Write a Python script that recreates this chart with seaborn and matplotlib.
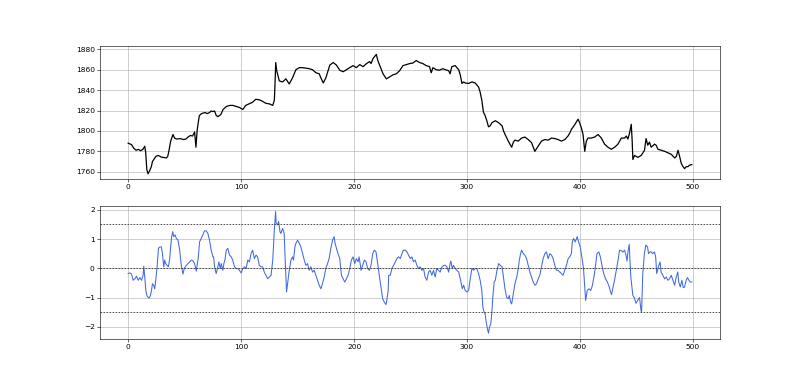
import matplotlib
matplotlib.use("Agg")
import matplotlib.pyplot as plt
import seaborn as sns
import pandas as pd

# price series
price_x = [0, 3, 5, 7, 9, 11, 13, 14.7, 15.5, 16.5, 17.6, 19, 20.5, 21.5, 24.5, 26.5, 29, 31, 33.8, 35,
           36, 37.6, 39.7, 41, 43, 46, 49, 51, 53, 55, 57, 58.8, 60, 61, 62, 63, 65, 68, 70, 72,
           73.5, 75, 76.5, 78, 79.5, 82, 84, 87, 90, 92.6, 95.5, 98.5, 101.5, 104, 107, 110, 113, 116, 119, 122,
           125, 128, 129.4, 130.2, 130.6, 131.5, 133.8, 136.7, 139.6, 142.6, 145.5, 148.5, 151.5, 154.4, 157.3, 160.3, 163.2, 166.2, 169.1, 170.6,
           172.7, 175, 178.5, 181.5, 184.4, 187.3, 190.3, 193.2, 196.2, 199.1, 202, 205, 208, 211, 213.8, 215, 216.8, 219.7, 221, 225.6,
           228.6, 231.5, 234.5, 237.4, 240.3, 243.3, 246.3, 249.2, 252, 255, 258, 260.9, 263.8, 266.8, 268.3, 269.8, 272.7, 275.6, 278.6, 280.8,
           283.7, 285, 286.5, 289.6, 291, 292.6, 294, 295.5, 297, 298.4, 301.4, 304.3, 307.2, 310.2, 311.6, 313.1, 314.5, 316, 317.5, 319,
           320.5, 322, 325, 328, 331, 332.3, 333.6, 336.5, 338, 339.5, 341, 342.4, 345.3, 348.3, 351.2, 354.2, 357.1, 360, 363, 365.9,
           368.9, 371.8, 374.8, 377.7, 380.6, 383.6, 386.5, 389.4, 391, 392.4, 395.3, 398.3, 399.7, 401.2, 402.7, 404.2, 405.6, 407.1, 410, 413,
           416, 418.9, 421.8, 424.8, 427.7, 430.7, 433.6, 436.6, 439.5, 441, 442.4, 443.9, 445.4, 446.2, 446.8, 448.3, 451.2, 454.2, 457.1, 458.5,
           460, 461.5, 463, 466, 467.4, 469, 472, 475, 478, 480.9, 483.8, 485.3, 486.8, 488.2, 489.7, 491.2, 492.6, 494.1, 495.6, 497, 499]
price = [1788, 1786.5, 1783, 1781, 1782, 1780.5, 1782, 1785, 1779, 1762, 1758, 1761, 1765, 1770, 1775, 1776, 1774.5, 1774, 1773.5, 1775,
         1780, 1790, 1796.5, 1793, 1792, 1792.5, 1791.5, 1792, 1794, 1795.5, 1795, 1799, 1784, 1800, 1808, 1815, 1817, 1818, 1817, 1818,
         1819.5, 1819, 1819.5, 1815, 1814, 1816, 1821, 1824, 1825, 1825, 1824, 1823, 1821, 1825, 1826.5, 1828, 1831, 1830.5, 1829, 1827,
         1826.5, 1825, 1830, 1852, 1867, 1859, 1849, 1848, 1851, 1846, 1852, 1860, 1862, 1862, 1861.5, 1861, 1860, 1857, 1856, 1852,
         1847, 1852, 1864.5, 1867, 1864.5, 1859.5, 1858, 1860, 1862, 1864, 1862, 1865, 1863, 1866, 1868, 1866, 1871, 1875, 1869, 1856,
         1851, 1853, 1855, 1856, 1859, 1864, 1865, 1866, 1866.5, 1869, 1867, 1866, 1864, 1863, 1857, 1862, 1860, 1859.5, 1861, 1860,
         1859, 1856, 1863, 1864, 1862, 1860, 1855, 1846.5, 1848, 1847, 1846.5, 1848, 1847, 1843, 1838, 1830, 1818.5, 1815, 1810, 1804,
         1805, 1808, 1810, 1808, 1805, 1800, 1796.7, 1790, 1787, 1784, 1789, 1791, 1790, 1793, 1794, 1791.5, 1788.5, 1780, 1785, 1790,
         1791.5, 1791, 1793, 1792.5, 1791.5, 1790, 1791.5, 1795, 1798, 1801.5, 1806, 1811.5, 1808, 1803, 1796.5, 1780, 1790, 1793, 1793, 1794,
         1796.5, 1793, 1787, 1784, 1782, 1784, 1787, 1793, 1793, 1795, 1792, 1798, 1806.5, 1790, 1772, 1776, 1774, 1776, 1781, 1792.5,
         1786, 1789, 1784, 1787, 1786, 1782, 1781, 1780, 1778.5, 1777, 1773.5, 1775, 1781, 1775, 1768, 1765, 1763, 1765, 1765, 1766.5, 1767]

# oscillator series
osc_x = [0, 1.5, 3, 4.4, 5.9, 7.4, 8.8, 10.3, 11.8, 13.2, 13.8, 14.7, 15.6, 16.8, 18.5, 19.7, 20.6, 21.5, 22.6, 23.5,
         24.4, 25.6, 26.8, 28, 29.4, 30.3, 31.5, 32.3, 33.2, 34.4, 35.6, 36.8, 37.6, 38.5, 39.4, 40.3, 41.5, 42.6, 44.1, 45.6,
         47, 48.5, 49.7, 51.5, 53, 54.4, 55.9, 57.4, 58.8, 60.3, 61.2, 62, 63.2, 64.7, 66.1, 67.6, 69.1, 70.6, 72, 73.5,
         75, 75.6, 76.5, 77.9, 79.4, 80.3, 81.5, 82.4, 83.8, 84.7, 85.9, 86.8, 88.2, 89.7, 91.2, 92.6, 94.1, 95.6, 97, 98.5,
         100, 101.5, 103, 104.4, 105.9, 107.3, 108.8, 110.2, 111.7, 113.2, 114.6, 116.1, 117.6, 119, 120.5, 122, 123.5, 125, 126.5, 128,
         129.4, 130.5, 131, 132.3, 133.2, 134.4, 135.2, 136.7, 138.1, 139, 140.2, 141.1, 142.6, 144.1, 145.5, 146.4, 147.6, 148.5, 150, 151.5,
         152.9, 154.4, 155.9, 157.3, 158.8, 160.3, 161.7, 163.2, 164.7, 166.2, 167.6, 169.1, 170.6, 172, 173.5, 175, 176.5, 177.9, 179.4, 180.9,
         182.3, 183.2, 184.4, 185.8, 187.3, 188.8, 190.3, 191.7, 193.2, 194.7, 196.2, 197.6, 199.1, 200.6, 202, 203.5, 204.4, 205.6, 206.1, 207.6,
         209.1, 210.6, 212, 213.5, 215, 216.5, 217.9, 219.4, 220.9, 222.3, 223.8, 225.3, 226.8, 228.2, 228.7, 230.2, 230.6, 232, 233.5, 235,
         236.5, 237.9, 239.4, 240.9, 242.4, 243.8, 245.3, 246.8, 248.2, 249.7, 251.2, 252.6, 254.1, 255.6, 257.1, 258.5, 260, 261.5, 262.9, 264.4,
         265.9, 267.3, 268.8, 270.3, 271.8, 273.2, 274.7, 276.2, 277.8, 279.3, 280.8, 282.2, 283.7, 285, 285.7, 286.9, 288, 289.6, 291, 292.6,
         294, 294.9, 295.8, 297, 298.4, 299.9, 301.4, 302.8, 304.3, 305.8, 307.2, 308.7, 310.2, 311.6, 313.1, 314, 315.1, 316, 317, 318.1,
         319, 319.9, 321, 321.9, 322.8, 324, 325, 326.5, 328, 329.5, 331, 332.4, 333.6, 335, 336.5, 337.4, 338.6, 339.5, 341, 342.4,
         344, 345.4, 346.3, 347.4, 348.3, 349.8, 351.2, 352.7, 354.2, 355.6, 357.1, 358.6, 360.1, 361.5, 363, 364.4, 365.9, 367.4, 368.9, 370.3,
         371.8, 373.3, 374.8, 376.2, 377.7, 379.2, 380.6, 382.1, 383.6, 385, 386.5, 388, 389.5, 390.9, 392.4, 393.2, 394.3, 395.8, 397.5, 398.3,
         400.2, 401.6, 403.1, 404.2, 405, 406.4, 408, 409.5, 411, 412.6, 414, 415, 416.7, 418, 419.7, 421, 422.6, 424, 425.6, 427,
         427.9, 429, 430.7, 432, 433.6, 435, 436.6, 438, 439.5, 441, 441.6, 442.6, 443.6, 444.2, 445, 446.8, 448, 449.6, 451, 452.7,
         454, 454.5, 455.6, 457, 458.3, 459.8, 460.7, 462, 463, 464.5, 465.9, 467, 467.9, 469.4, 470.9, 471.8, 473.4, 474.9, 476.4, 477.8,
         479.3, 480.8, 482.3, 483.8, 485.2, 486.6, 487.4, 488.8, 490.2, 491.4, 492.6, 494, 495.2, 496.4, 497.7, 499]
osc = [-0.18, -0.16, -0.2, -0.41, -0.36, -0.27, -0.41, -0.32, -0.41, -0.24, 0.07, -0.3, -0.76, -0.96, -1.02, -0.93, -0.76, -0.53, -0.58, -0.7,
       -0.41, 0.05, 0.68, 0.73, 0.73, 0.5, 0.05, 0.28, 0.16, 0.1, 0.05, 0.33, 0.73, 1.08, 1.25, 1.08, 1.14, 1.02, 0.96, 0.62,
       0.1, -0.2, 0, 0.1, 0.16, 0.22, 0.28, 0.25, 0.16, -0.1, 0.16, 0.33, 0.9, 1.02, 1.14, 1.28, 1.28, 1.19, 0.96, 0.62,
       0.39, 0.39, 0.05, -0.18, 0.05, 0.22, -0.01, 0.16, -0.07, 0.16, 0.33, 0.62, 0.68, 0.45, 0.39, 0.28, 0.05, -0.01, -0.01, -0.07,
       -0.16, -0.01, 0.05, -0.01, 0.28, 0.22, 0.5, 0.62, 0.33, 0.45, 0.39, 0.1, 0.05, 0.05, -0.13, -0.24, -0.36, -0.3, -0.24, 0.28,
       1.31, 1.94, 1.54, 1.48, 1.6, 1.25, 1.19, 1.36, 1.19, 0.28, -0.81, -0.53, -0.07, 0.28, 0.39, 0.28, 0.73, 0.85, 0.96, 0.85,
       0.73, 0.5, 0.28, 0.1, 0.16, -0.07, 0.05, -0.13, -0.07, -0.24, -0.41, -0.58, -0.7, -0.53, -0.3, 0, 0.16, 0.33, 0.68, 0.96,
       1.08, 0.85, 0.68, 0.5, 0.33, -0.24, -0.36, -0.47, -0.36, -0.24, 0, 0.28, 0.39, 0.16, 0.33, 0.22, 0.39, 0.1, -0.07, 0.1,
       0.28, 0.22, -0.01, -0.07, 0.1, 0.5, 0.62, 0.56, 0.16, -0.24, -0.64, -1.04, -1.16, -1.24, -1.16, -0.76, -0.24, -0.24, 0, 0.1,
       0.22, 0.33, 0.39, 0.33, 0.5, 0.62, 0.62, 0.56, 0.45, 0.33, 0.39, 0.22, 0.28, 0.1, -0.01, 0.05, -0.07, -0.01, -0.3, -0.41,
       -0.13, -0.07, -0.24, -0.07, -0.3, -0.01, -0.07, -0.13, 0.05, 0.1, 0.1, 0.05, -0.13, 0.16, 0.25, -0.01, 0.1, -0.01, -0.07, -0.13,
       -0.36, -0.53, -0.7, -0.58, -0.76, -0.81, -0.76, -0.36, 0, -0.07, -0.01, -0.01, -0.18, -0.41, -0.76, -1.33, -1.5, -1.56, -1.85, -2.08,
       -2.22, -2.0, -1.9, -1.56, -0.99, -0.47, -0.41, -0.07, 0.16, 0.1, 0.05, -0.36, -0.7, -0.99, -1.04, -0.93, -1.16, -1.22, -0.87, -0.53,
       -0.3, 0, 0.28, 0.5, 0.62, 0.5, 0.45, 0.33, 0.1, -0.13, -0.3, -0.47, -0.58, -0.53, -0.36, -0.24, 0.05, 0.33, 0.5, 0.56,
       0.33, 0.5, 0.45, 0.33, 0.1, -0.07, -0.07, -0.13, -0.18, -0.24, -0.07, 0.1, 0.33, 0.39, 0.5, 0.9, 1.02, 0.9, 1.08, 0.96,
       0.73, 0.39, 0, -0.64, -1.1, -0.76, -0.7, -0.76, -0.58, -0.24, 0.16, 0.5, 0.56, 0.39, 0.05, -0.18, -0.36, -0.45, -0.6, -0.8,
       -0.9, -0.7, -0.38, -0.1, 0.25, 0.62, 0.6, 0.55, 0.62, 0.4, 0.25, 0.6, 0.82, 0.3, -0.3, -0.93, -1.0, -1.2, -1.1, -1.0,
       -1.44, -1.5, -0.18, 0.5, 0.79, 0.73, 0.5, 0.56, 0.56, 0.5, 0.56, 0.39, -0.18, 0.05, 0.22, -0.13, -0.24, -0.36, -0.3, -0.41,
       -0.36, -0.24, -0.41, -0.58, -0.3, -0.13, -0.47, -0.64, -0.41, -0.66, -0.64, -0.41, -0.32, -0.41, -0.47, -0.47]

levels = [1.5, 0, -1.5]

s = 0.54  # the reference looks like a bigger figure scaled down
plt.rcParams.update({
    'font.size': 10 * s,
    'axes.linewidth': 0.8 * s,
    'xtick.major.size': 3.5 * s, 'ytick.major.size': 3.5 * s,
    'xtick.major.width': 0.8 * s, 'ytick.major.width': 0.8 * s,
    'xtick.major.pad': 3.5 * s, 'ytick.major.pad': 3.5 * s,
    'grid.linewidth': 0.8 * s,
})

df_price = pd.DataFrame({'x': price_x, 'close': price})
df_osc = pd.DataFrame({'x': osc_x, 'value': osc})

fig, (ax1, ax2) = plt.subplots(2, 1, figsize=(8, 3.81), dpi=100)

sns.lineplot(data=df_price, x='x', y='close', ax=ax1, color='black', linewidth=0.9, estimator=None)
ax1.grid(True)
ax1.set_xlim(-24.95, 523.95)
ax1.set_ylim(1752.8, 1883.5)
ax1.set_xlabel('')
ax1.set_ylabel('')

sns.lineplot(data=df_osc, x='x', y='value', ax=ax2, color='royalblue', linewidth=0.75, estimator=None)
for lv in levels:
    ax2.axhline(lv, color='#333333', linestyle=(0, (2, 1.6)), linewidth=0.6)
ax2.grid(True)
ax2.set_xlim(-24.95, 523.95)
ax2.set_ylim(-2.42, 2.137)
ax2.set_xlabel('')
ax2.set_ylabel('')

fig.savefig('out.png', dpi=100)
